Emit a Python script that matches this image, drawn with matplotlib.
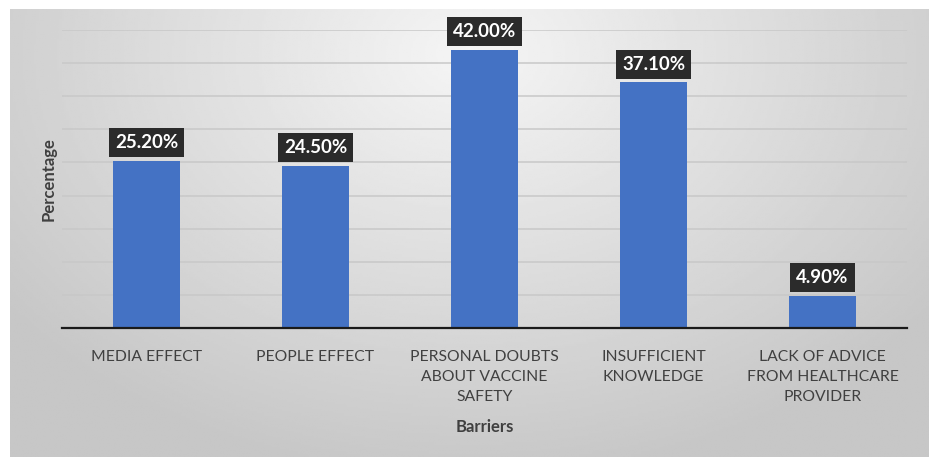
import numpy as np
import matplotlib.pyplot as plt

plt.rcParams['font.family'] = ['Lato', 'DejaVu Sans']

barriers = ["MEDIA EFFECT", "PEOPLE EFFECT", "PERSONAL DOUBTS\nABOUT VACCINE\nSAFETY",
            "INSUFFICIENT\nKNOWLEDGE", "LACK OF ADVICE\nFROM HEALTHCARE\nPROVIDER"]
percentages = [25.2, 24.5, 42.0, 37.1, 4.9]

W, H = 930, 459
fig = plt.figure(figsize=(W / 100, H / 100), dpi=100, facecolor='white')

# gray gradient panel behind the chart
bg = fig.add_axes([10 / W, 2 / H, 918 / W, 448 / H])
yy, xx = np.mgrid[0:1:200j, 0:1:400j]
r = np.sqrt(((xx - 0.5) / 0.7) ** 2 + ((yy - 0.9) / 1.05) ** 2)
shade = np.clip(0.96 - 0.2 * r, 0.78, 0.96)
bg.imshow(shade, cmap='gray', vmin=0, vmax=1, aspect='auto', origin='lower',
          extent=[0, 1, 0, 1])
bg.set_xlim(0, 1)
bg.set_ylim(0, 1)
bg.axis('off')

ax = fig.add_axes([62 / W, 1 - 328 / H, 845 / W, 298 / H])
ax.set_facecolor('none')
x = np.arange(len(barriers))
ax.bar(x, percentages, width=0.4, color='#4472C4', zorder=3)

ax.set_xlim(-0.5, len(barriers) - 0.5)
ax.set_ylim(0, 45)
ax.set_yticks(np.arange(5, 46, 5))
ax.yaxis.grid(True, color='#c8c8c8', linewidth=1.1, zorder=0)
ax.tick_params(axis='y', left=False, labelleft=False)
ax.tick_params(axis='x', bottom=False, labelsize=11.3, labelcolor='#404040', pad=12)
ax.set_xticks(x)
ax.set_xticklabels(barriers, linespacing=1.55)
for side in ['top', 'right', 'left']:
    ax.spines[side].set_visible(False)
ax.spines['bottom'].set_color('#1a1a1a')
ax.spines['bottom'].set_linewidth(1.6)
ax.spines['bottom'].set_zorder(4)

for xi, v in zip(x, percentages):
    ax.annotate(f"{v:.2f}%", (xi, v), xytext=(0, 7), textcoords='offset points',
                ha='center', va='bottom', color='white', fontsize=13.5,
                fontweight='bold', zorder=5,
                bbox=dict(boxstyle='square,pad=0.32', fc='#2b2b2b', ec='none'))

ax.set_xlabel("Barriers", fontsize=12, fontweight='bold', color='#404040', labelpad=11)
ax.set_ylabel("Percentage", fontsize=12, fontweight='bold', color='#404040', labelpad=4)

fig.savefig("out.png", dpi=100, facecolor='white')
